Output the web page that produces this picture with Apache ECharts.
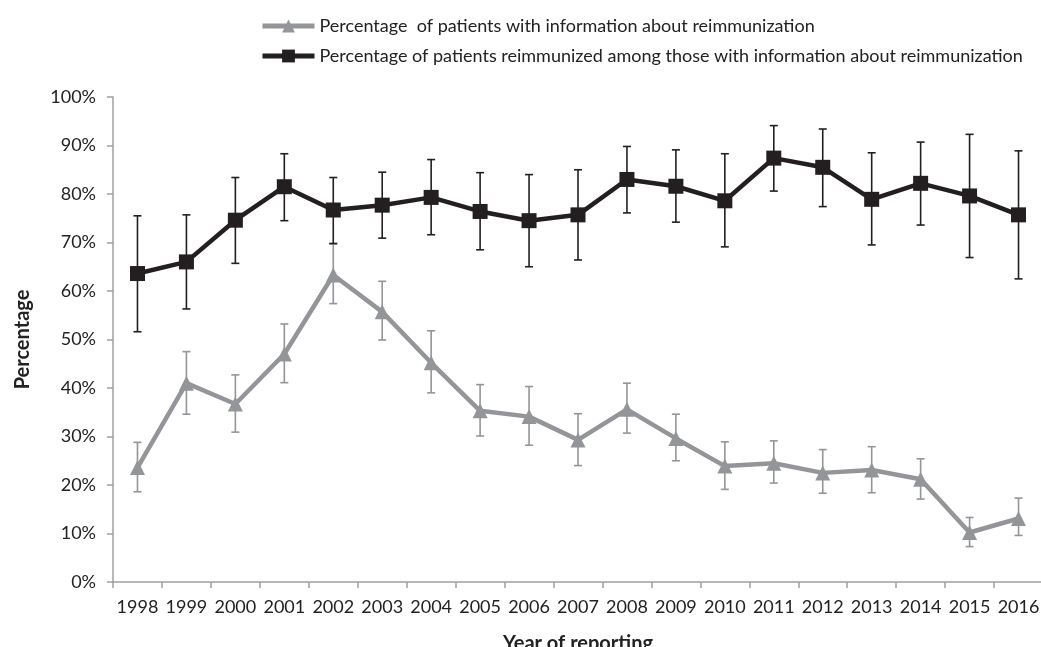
<!DOCTYPE html>
<html>
<head>
<meta charset="utf-8">
<script src="https://cdn.jsdelivr.net/npm/echarts@6/dist/echarts.min.js"></script>
<style>
  html, body { margin: 0; padding: 0; background: #fff; }
  #chart { width: 1041px; height: 647px; }
</style>
</head>
<body>
<div id="chart"></div>
<script>
// data
var years = ['1998', '1999', '2000', '2001', '2002', '2003', '2004', '2005', '2006', '2007',
  '2008', '2009', '2010', '2011', '2012', '2013', '2014', '2015', '2016']
var infoName = 'Percentage  of patients with information about reimmunization'
var reimName = 'Percentage of patients reimmunized among those with information about reimmunization'

var infoVal = [23.6, 41.0, 36.7, 47.0, 63.3, 55.7, 45.2, 35.3, 34.1, 29.3, 35.6, 29.6, 23.9, 24.5, 22.5, 23.1, 21.2, 10.2, 13.1]
var infoLow = [18.6, 34.6, 30.9, 41.1, 57.4, 49.9, 39.0, 30.1, 28.2, 24.0, 30.7, 25.0, 19.1, 20.4, 18.3, 18.4, 17.1, 7.3, 9.6]
var infoHigh = [28.8, 47.5, 42.7, 53.2, 69.7, 62.0, 51.8, 40.7, 40.3, 34.7, 41.0, 34.6, 28.9, 29.1, 27.3, 27.9, 25.4, 13.3, 17.3]

var reimVal = [63.6, 66.0, 74.6, 81.5, 76.7, 77.7, 79.3, 76.4, 74.5, 75.7, 83.0, 81.6, 78.6, 87.4, 85.5, 78.9, 82.2, 79.6, 75.7]
var reimLow = [51.6, 56.3, 65.7, 74.5, 69.8, 70.9, 71.6, 68.5, 65.0, 66.4, 76.1, 74.2, 69.1, 80.6, 77.4, 69.5, 73.6, 66.9, 62.5]
var reimHigh = [75.5, 75.7, 83.4, 88.3, 83.4, 84.5, 87.1, 84.4, 84.0, 85.0, 89.8, 89.1, 88.3, 94.1, 93.4, 88.5, 90.7, 92.3, 88.9]

var black = '#231f20'
var grey = '#939598'

function errData (low, high) {
  return low.map(function (l, i) { return [i, l, high[i]] })
}

// 误差线
function errBar (color) {
  return function (params, api) {
    var lo = api.coord([api.value(0), api.value(1)])
    var hi = api.coord([api.value(0), api.value(2)])
    var cap = 4
    var style = { stroke: color, lineWidth: 1.6 }
    return {
      type: 'group',
      children: [
        { type: 'line', shape: { x1: lo[0], y1: lo[1], x2: hi[0], y2: hi[1] }, style: style },
        { type: 'line', shape: { x1: hi[0] - cap, y1: hi[1], x2: hi[0] + cap, y2: hi[1] }, style: style },
        { type: 'line', shape: { x1: lo[0] - cap, y1: lo[1], x2: lo[0] + cap, y2: lo[1] }, style: style }
      ]
    }
  }
}

var chart = echarts.init(document.getElementById('chart'))
var font = 'Lato'
var option = {
  animation: false,
  textStyle: { fontFamily: font },
  legend: {
    data: [infoName, reimName],
    orient: 'vertical',
    left: 255,
    top: 12,
    itemWidth: 52,
    itemHeight: 16,
    itemGap: 12,
    lineStyle: { width: 5 },
    textStyle: { color: '#222', fontSize: 18, fontFamily: font },
    selectedMode: false
  },
  grid: {
    left: 113,
    right: -2,
    top: 97,
    bottom: 65,
    outerBoundsMode: 'none'
  },
  xAxis: {
    type: 'category',
    data: years,
    name: 'Year of reporting',
    nameLocation: 'middle',
    nameGap: 52,
    nameTextStyle: { fontWeight: 'bold', fontSize: 20, color: '#222', fontFamily: font },
    axisLine: { lineStyle: { color: '#a0a0a0', width: 1.5 } },
    axisTick: { show: true, length: 6, lineStyle: { color: '#a0a0a0', width: 1.5 } },
    axisLabel: { color: '#222', fontSize: 18, margin: 16, interval: 0 }
  },
  yAxis: {
    type: 'value',
    min: 0,
    max: 100,
    interval: 10,
    name: 'Percentage',
    nameLocation: 'middle',
    nameGap: 80,
    nameTextStyle: { fontWeight: 'bold', fontSize: 20, color: '#222', fontFamily: font },
    axisLine: { show: true, lineStyle: { color: '#a0a0a0', width: 1.5 } },
    axisTick: { show: true, length: 6, lineStyle: { color: '#a0a0a0', width: 1.5 } },
    axisLabel: { color: '#222', fontSize: 18, margin: 17, formatter: '{value}%' },
    splitLine: { show: false }
  },
  series: [
    {
      name: 'infoErr',
      type: 'custom',
      renderItem: errBar(grey),
      data: errData(infoLow, infoHigh),
      encode: { x: 0, y: [1, 2] },
      z: 1,
      silent: true
    },
    {
      name: 'reimErr',
      type: 'custom',
      renderItem: errBar(black),
      data: errData(reimLow, reimHigh),
      encode: { x: 0, y: [1, 2] },
      z: 1,
      silent: true
    },
    {
      name: infoName,
      type: 'line',
      data: infoVal,
      symbol: 'triangle',
      symbolSize: 15,
      lineStyle: { color: grey, width: 4.5 },
      itemStyle: { color: grey },
      z: 3
    },
    {
      name: reimName,
      type: 'line',
      data: reimVal,
      symbol: 'rect',
      symbolSize: 15,
      lineStyle: { color: black, width: 4.5 },
      itemStyle: { color: black },
      z: 4
    }
  ]
}
chart.setOption(option)
</script>
</body>
</html>
